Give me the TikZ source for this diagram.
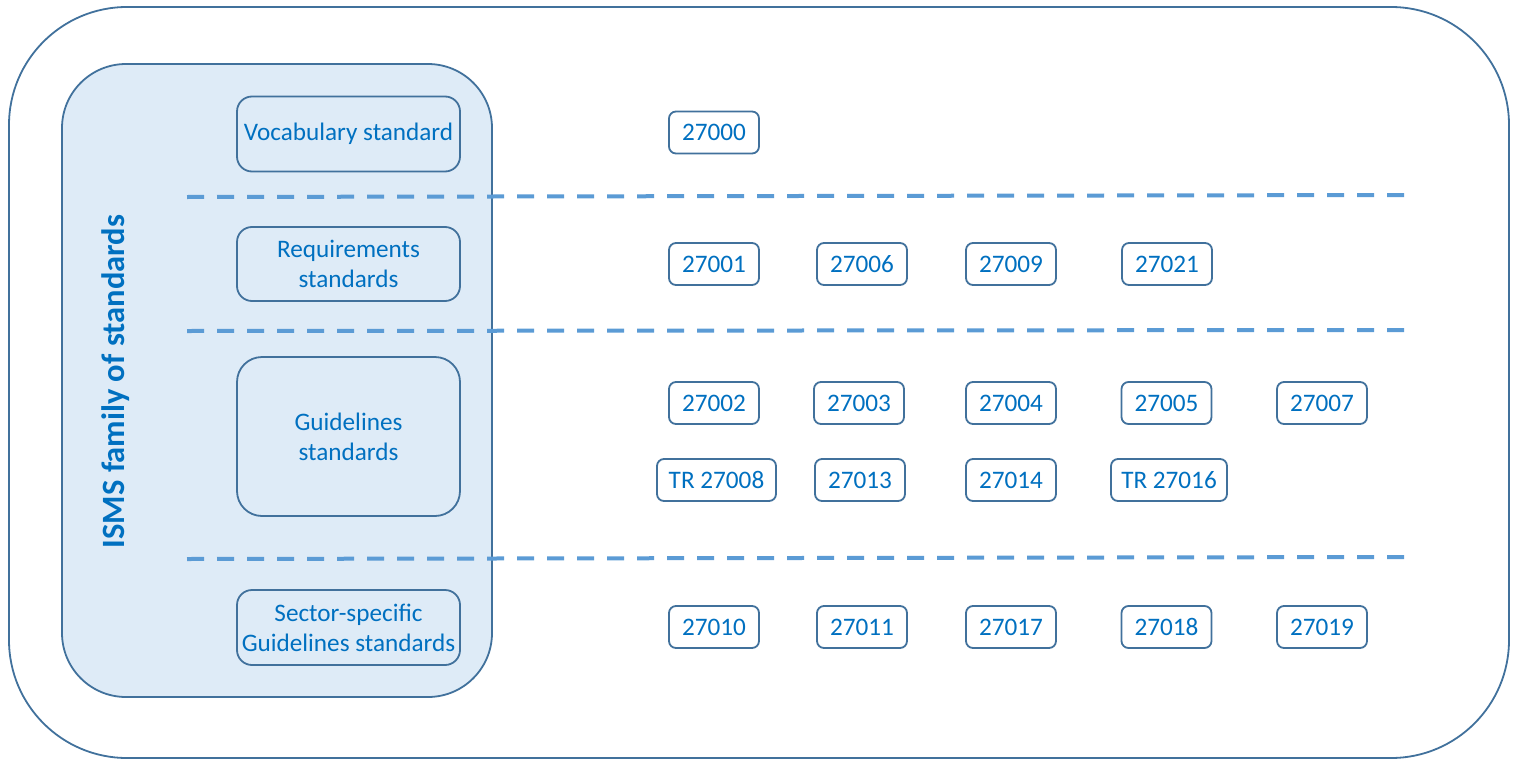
\documentclass[tikz,border=0pt]{standalone}
\usepackage{fontspec}
\setmainfont{Carlito}
\definecolor{edge}{HTML}{41719C}
\definecolor{txt}{HTML}{0070C0}
\definecolor{pale}{HTML}{DEEBF7}
\definecolor{dash}{HTML}{5B9BD5}
\begin{document}
\begin{tikzpicture}[x=1pt,y=-1pt,
  numbox/.style={draw=edge,line width=1.8pt,rounded corners=7pt,fill=white,
    minimum height=42pt,minimum width=90pt,inner sep=0pt,text=txt,font=\fontsize{25.2}{30}\selectfont},
  catbox/.style={draw=edge,line width=1.8pt,rounded corners=15pt,
    minimum width=223pt,inner sep=0pt,text=txt,align=center,font=\fontsize{25.2}{30}\selectfont},
  sepline/.style={draw=dash,line width=4pt,dash pattern=on 17pt off 13pt}]
\useasboundingbox (0,0) rectangle (1517,760);
% outer frame
\draw[edge,line width=1.8pt,rounded corners=118pt] (9,7) rectangle (1509,758);
% inner family panel
\draw[edge,fill=pale,line width=1.8pt,rounded corners=64pt] (62,64) rectangle (492,697);
\node[rotate=90,text=txt,font=\fontsize{32.5}{38}\selectfont\bfseries] (title) at (116,381.5) {ISMS family of standards};
% category boxes
\node[catbox,minimum height=75pt] (voc) at (348.5,134) {Vocabulary standard};
\node[catbox,minimum height=74pt] (req) at (348.5,264) {Requirements\\standards};
\node[catbox,minimum height=159pt,rounded corners=25pt] (gui) at (348.5,436.5) {Guidelines\\standards};
\node[catbox,minimum height=75pt] (sec) at (348.5,627.5) {Sector-specific\\Guidelines standards};
% separators
\coordinate (s1a) at (187,197); \coordinate (s1b) at (1408,195);
\coordinate (s2a) at (187,331); \coordinate (s2b) at (1408,330);
\coordinate (s3a) at (187,559); \coordinate (s3b) at (1408,557);
\draw[sepline] (s1a) -- (s1b);
\draw[sepline] (s2a) -- (s2b);
\draw[sepline] (s3a) -- (s3b);
% number boxes
\node[numbox] (n27000) at (714,132.5) {27000};
\node[numbox] (n27001) at (714,264) {27001};
\node[numbox] (n27006) at (862,264) {27006};
\node[numbox] (n27009) at (1011,264) {27009};
\node[numbox] (n27021) at (1167,264) {27021};
\node[numbox] (n27002) at (714,403) {27002};
\node[numbox] (n27003) at (859,403) {27003};
\node[numbox] (n27004) at (1011,403) {27004};
\node[numbox] (n27005) at (1166.5,403) {27005};
\node[numbox] (n27007) at (1322,403) {27007};
\node[numbox,minimum width=119pt] (n27008) at (716.5,480) {TR 27008};
\node[numbox] (n27013) at (860,480) {27013};
\node[numbox] (n27014) at (1011,480) {27014};
\node[numbox,minimum width=116pt] (n27016) at (1169,480) {TR 27016};
\node[numbox] (n27010) at (714,627) {27010};
\node[numbox] (n27011) at (862,627) {27011};
\node[numbox] (n27017) at (1011,627) {27017};
\node[numbox] (n27018) at (1166.5,627) {27018};
\node[numbox] (n27019) at (1322,627) {27019};
\end{tikzpicture}
\end{document}
